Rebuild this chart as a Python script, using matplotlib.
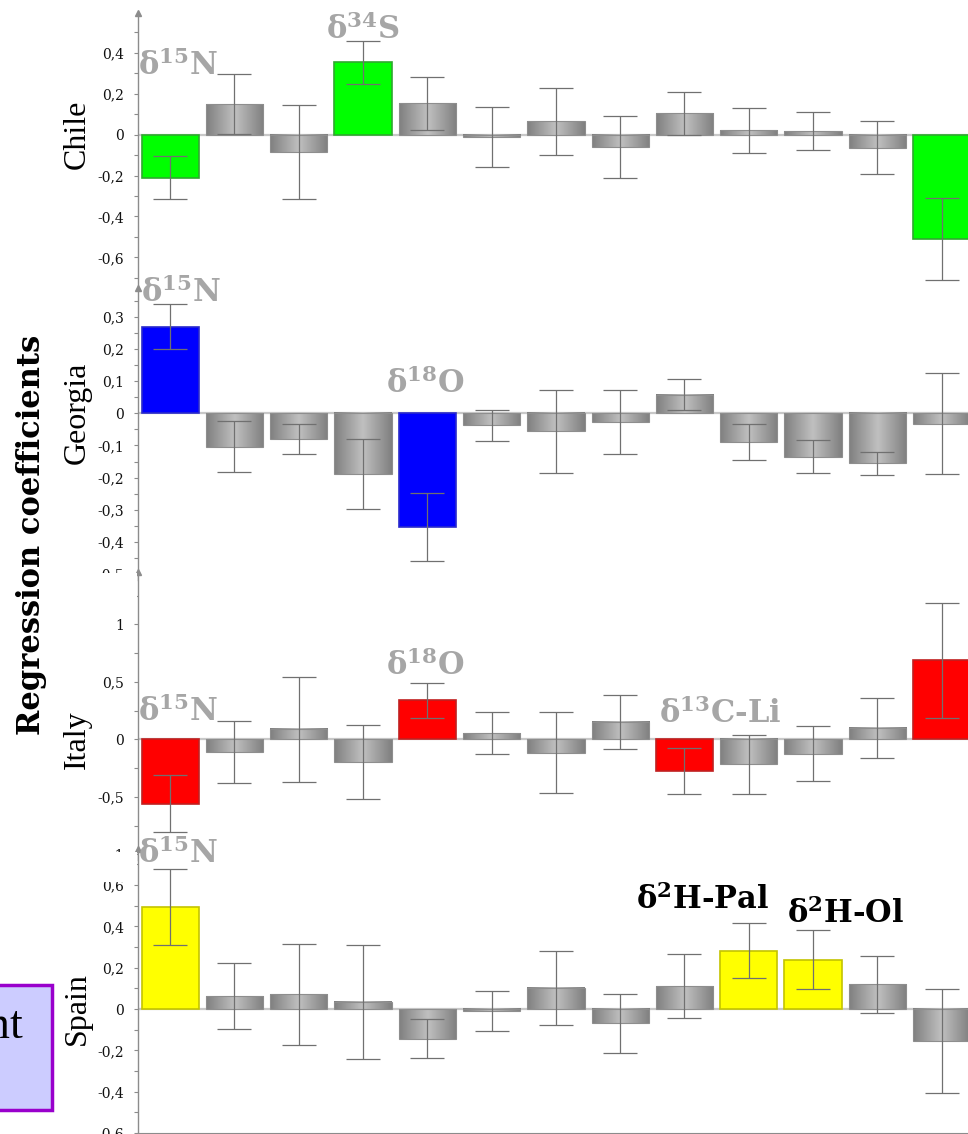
import matplotlib
matplotlib.use('Agg')
import matplotlib.pyplot as plt
import matplotlib.transforms as mtransforms
import numpy as np
from matplotlib.colors import LinearSegmentedColormap
from matplotlib.patches import Rectangle
from matplotlib.ticker import MultipleLocator, FuncFormatter

plt.rcParams['mathtext.fontset'] = 'custom'
plt.rcParams['mathtext.rm'] = 'DejaVu Serif:bold'
plt.rcParams['mathtext.bf'] = 'DejaVu Serif:bold'

# 13 predictors, same order in each country panel
n_vars = 13
positions = np.arange(n_vars)

countries = ['Chile', 'Georgia', 'Italy', 'Spain']

chile_coef = [-0.21, 0.148, -0.085, 0.353, 0.153, -0.013, 0.064, -0.06, 0.104, 0.02, 0.017, -0.064, -0.508]
chile_err = [0.105, 0.145, 0.23, 0.105, 0.13, 0.146, 0.164, 0.15, 0.104, 0.11, 0.092, 0.13, 0.2]
georgia_coef = [0.269, -0.104, -0.08, -0.19, -0.353, -0.037, -0.056, -0.027, 0.058, -0.09, -0.135, -0.156, -0.033]
georgia_err = [0.069, 0.079, 0.047, 0.109, 0.105, 0.048, 0.129, 0.1, 0.047, 0.056, 0.051, 0.036, 0.157]
italy_coef = [-0.56, -0.113, 0.087, -0.2, 0.339, 0.052, -0.117, 0.15, -0.28, -0.219, -0.126, 0.096, 0.687]
italy_err = [0.25, 0.27, 0.457, 0.32, 0.15, 0.183, 0.35, 0.237, 0.2, 0.254, 0.24, 0.26, 0.5]
spain_coef = [0.493, 0.062, 0.071, 0.034, -0.144, -0.01, 0.102, -0.07, 0.111, 0.282, 0.238, 0.119, -0.155]
spain_err = [0.183, 0.159, 0.244, 0.276, 0.094, 0.095, 0.181, 0.144, 0.155, 0.133, 0.143, 0.138, 0.25]

# significant predictors (highlighted bars)
chile_sig = [0, 3, 12]
georgia_sig = [0, 4]
italy_sig = [0, 4, 8, 12]
spain_sig = [0, 9, 10]

# labels over the significant bars: (text, x, y, colour)
chile_labels = [('δ$^{15}$N', 0.12, 0.335, '#a6a6a6'), ('δ$^{34}$S', 2.99, 0.51, '#a6a6a6')]
georgia_labels = [('δ$^{15}$N', 0.17, 0.374, '#a6a6a6'), ('δ$^{18}$O', 3.97, 0.092, '#a6a6a6')]
italy_labels = [('δ$^{15}$N', 0.12, 0.24, '#a6a6a6'), ('δ$^{18}$O', 3.97, 0.64, '#a6a6a6'),
                ('δ$^{13}$C-Li', 8.55, 0.222, '#a6a6a6')]
spain_labels = [('δ$^{15}$N', 0.12, 0.752, '#a6a6a6'), ('δ$^{2}$H-Pal', 8.29, 0.53, 'black'),
                ('δ$^{2}$H-Ol', 10.5, 0.458, 'black')]

W, H = 968, 1134
fig = plt.figure(figsize=(W / 100, H / 100), dpi=100)

# panel layout in pixels: top, bottom, ylim, major step
panels = [
    (chile_coef, chile_err, chile_sig, chile_labels, '#00ff00', '#2fa82f', 13, 288, (-0.749, 0.593), 0.2),
    (georgia_coef, georgia_err, georgia_sig, georgia_labels, '#0000ff', '#2a2acc', 288, 580, (-0.518, 0.389), 0.1),
    (italy_coef, italy_err, italy_sig, italy_labels, '#ff0000', '#c02020', 571.7, 860, (-1.05, 1.457), 0.5),
    (spain_coef, spain_err, spain_sig, spain_labels, '#ffff00', '#c4c400', 849, 1132.9, (-0.6, 0.775), 0.2),
]

cyl = LinearSegmentedColormap.from_list('cyl', ['#808080', '#c0c0c0', '#808080'])
grad = np.linspace(0, 1, 100)[None, :]
bw = 0.89
axis_col = '#8c8c8c'


def fmt(v, pos):
    v = round(v, 3)
    if abs(v) < 1e-9:
        return '0'
    return ('%g' % v).replace('.', ',')


for i, (coef, err, sig, labels, col, edge, top, bot, ylim, step) in enumerate(panels):
    ax = fig.add_axes([138 / W, 1 - bot / H, (W - 138) / W, (bot - top) / H])
    ax.axhline(0, color='#c8c8c8', lw=1.6, zorder=1)
    for x, v in zip(positions, coef):
        if x in sig:
            ax.bar(x, v, width=bw, color=col, edgecolor=edge, lw=1.2, zorder=3)
        else:
            ax.bar(x, v, width=bw, color='none', edgecolor='#8e8e8e', lw=0.8, zorder=3)
            ax.imshow(grad, cmap=cyl, aspect='auto', interpolation='bicubic', zorder=2,
                      extent=(x - bw / 2, x + bw / 2, min(0, v), max(0, v)))
    ax.errorbar(positions, coef, yerr=err, fmt='none', ecolor='#707070', elinewidth=0.9,
                capsize=12.5, capthick=0.9, zorder=4)
    for txt, x, y, c in labels:
        ax.text(x, y, txt, ha='center', va='center', fontsize=22, fontweight='bold',
                color=c, family='DejaVu Serif', zorder=7, clip_on=False)

    ax.set_xlim(-0.5, 12.41)
    ax.set_ylim(*ylim)
    ax.yaxis.set_major_locator(MultipleLocator(step))
    ax.yaxis.set_minor_locator(MultipleLocator(step / 2))
    ax.yaxis.set_major_formatter(FuncFormatter(fmt))
    ax.tick_params(axis='y', which='both', direction='out', length=3, width=0.8,
                   color=axis_col, labelsize=10, pad=7, labelcolor='#111111')
    for t in ax.get_yticklabels():
        t.set_family('DejaVu Serif')
    for s in ['top', 'right']:
        ax.spines[s].set_visible(False)
    ax.spines['left'].set_color(axis_col)
    ax.spines['left'].set_linewidth(1)
    ax.plot([0], [1], marker='^', ms=5, color=axis_col, transform=ax.transAxes,
            clip_on=False, zorder=6)
    if i == len(panels) - 1:
        ax.spines['bottom'].set_color(axis_col)
        ax.set_xticks(positions)
        ax.set_xticklabels([])
        ax.tick_params(axis='x', direction='out', length=3, color=axis_col)
    else:
        ax.spines['bottom'].set_visible(False)
        ax.set_xticks([])

    trans = mtransforms.blended_transform_factory(ax.transAxes, ax.transData)
    ax.text(-61 / (W - 138), 0, countries[i], rotation=90, ha='center', va='center',
            fontsize=23, family='Liberation Serif', transform=trans, clip_on=False)

# the panels overlap: hide the cut-off tick labels under the next panel
for y0 in [573, 852]:
    fig.add_artist(Rectangle((88 / W, 1 - (y0 + 30) / H), 49 / W, 30 / H, transform=fig.transFigure,
                             facecolor='white', edgecolor='none', zorder=5))

fig.text(32 / W, 1 - 535 / H, 'Regression coefficients', rotation=90, ha='center', va='center',
         fontsize=22, fontweight='bold', family='DejaVu Serif')

# piece of a legend box at the left edge
fig.add_artist(Rectangle((-0.01, 1 - 1110 / H), 52 / W + 0.01, 125 / H, transform=fig.transFigure,
                         facecolor='#ccccff', edgecolor='#9900cc', lw=2.5, zorder=2))
fig.text(23 / W, 1 - 1038 / H, 'nt', ha='right', va='baseline', fontsize=33,
         family='Liberation Serif', zorder=3)

fig.savefig('out.png', dpi=100)
